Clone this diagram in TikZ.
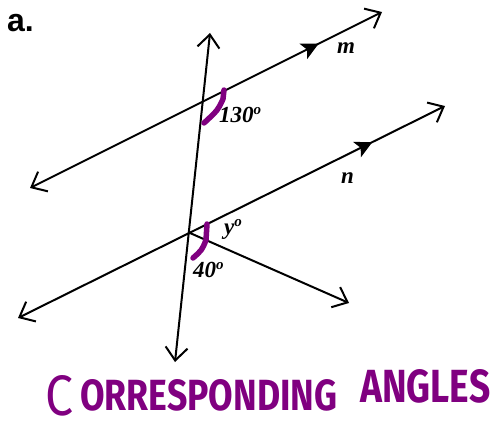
\documentclass[tikz,border=0pt]{standalone}
\usepackage{fontspec}
\setmainfont{Liberation Serif}
\newfontfamily\labfont{Liberation Sans}
\newfontfamily\handfont{Fira Sans}
\usetikzlibrary{arrows.meta,decorations.markings}
\definecolor{markpurple}{HTML}{800080}
\begin{document}
\begin{tikzpicture}[x=1pt,y=-1pt,
  geoline/.style={line width=2pt,black,{Straight Barb[length=13pt,width=22pt]}-{Straight Barb[length=13pt,width=22pt]}},
  rayline/.style={line width=2pt,black,-{Straight Barb[length=13pt,width=22pt]}},
  midmark/.style={postaction={decorate,decoration={markings,mark=at position #1 with {\arrow{Stealth[length=17pt,width=17pt,inset=4pt]}}}}},
  anglemark/.style={line width=5.5pt,markpurple,line cap=round,line join=round},
  lbl/.style={font=\bfseries\itshape\fontsize{23}{23}\selectfont,inner sep=0pt,anchor=base west}]
\useasboundingbox (0,0) rectangle (494,420);
% points
\coordinate (mL) at (30,188);
\coordinate (mR) at (382,12);
\coordinate (nL) at (18,318);
\coordinate (nR) at (445,106);
\coordinate (tT) at (210,33);
\coordinate (tB) at (175,362);
\coordinate (P) at (190,233);
\coordinate (rE) at (349,303);
% lines
\draw[geoline,midmark=0.82] (mL) -- (mR);
\draw[geoline,midmark=0.83] (nL) -- (nR);
\draw[geoline] (tB) -- (tT);
\draw[rayline] (P) -- (rE);
% angle marks
\draw[anglemark] (224,90) -- (223,99) .. controls (218,110) .. (204,123);
\draw[anglemark] (207,224) -- (206,240) .. controls (202,250) .. (193,258);
% labels
\node[font=\labfont\bfseries\fontsize{32}{32}\selectfont,inner sep=0pt,anchor=base west] (lblA) at (7,32) {a.};
\node[lbl] (lblM) at (337,53) {m};
\node[lbl] (lblN) at (341,183) {n};
\node[lbl] (lbl130) at (219,122) {130\raisebox{8pt}{\fontsize{15}{15}\selectfont o}};
\node[lbl] (lblY) at (224,234) {y\raisebox{8pt}{\fontsize{15}{15}\selectfont o}};
\node[lbl] (lbl40) at (193,277) {40\raisebox{8pt}{\fontsize{15}{15}\selectfont o}};
\node[font=\handfont\bfseries,text=markpurple,inner sep=0pt,anchor=base west] (title) at (45,415)
  {\resizebox{28pt}{40pt}{\mdseries C}\hspace{7pt}\raisebox{5pt}{\resizebox{257pt}{31pt}{ORRESPONDING}}\hspace{23pt}\raisebox{13pt}{\resizebox{130pt}{33pt}{ANGLES}}};
\end{tikzpicture}
\end{document}
